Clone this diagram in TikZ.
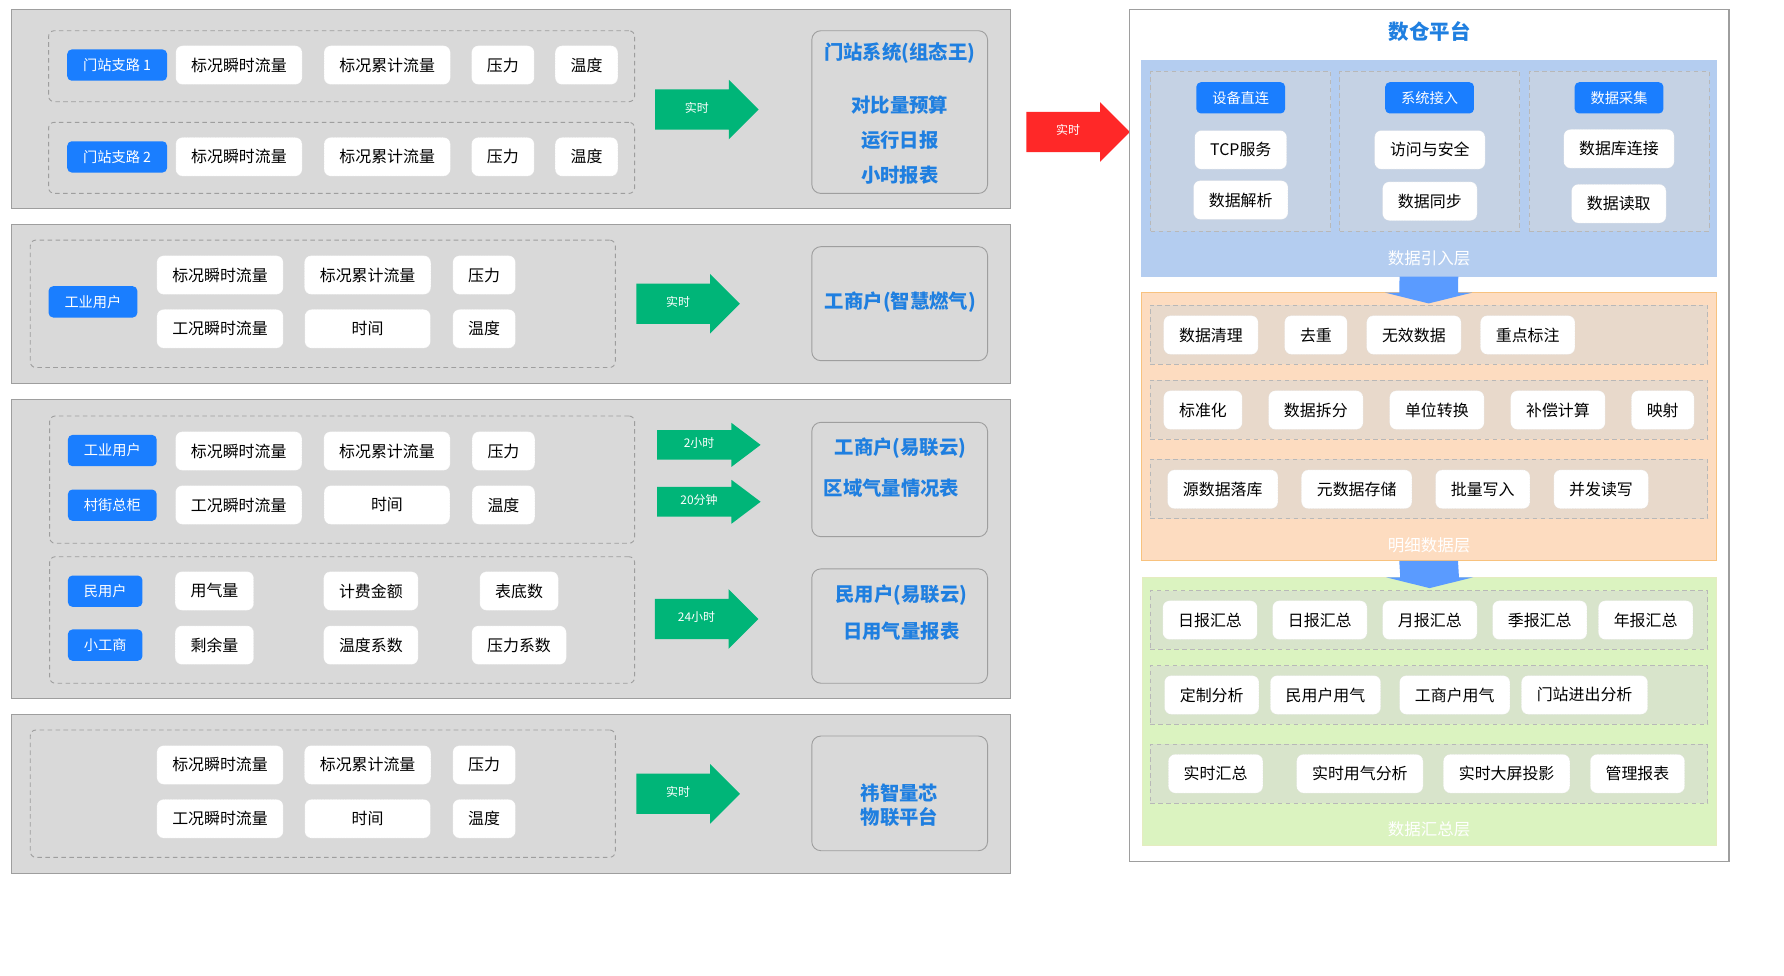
\documentclass[tikz,border=0pt]{standalone}
\usepackage{fontspec}
\setmainfont{Noto Sans CJK SC}
\usetikzlibrary{arrows.meta, positioning, shapes.arrows, calc}

\definecolor{panelgray}{HTML}{D9D9D9}
\definecolor{linegray}{HTML}{9E9E9E}
\definecolor{btnblue}{HTML}{1A7EFF}
\definecolor{flowgreen}{HTML}{00B578}
\definecolor{flowred}{HTML}{FF2828}
\definecolor{sysblue}{HTML}{1F7FE0}
\definecolor{inblue}{HTML}{B4CDF0}
\definecolor{incol}{HTML}{C5D2E4}
\definecolor{dtorange}{HTML}{FDDCC0}
\definecolor{dtedge}{HTML}{F8C27E}
\definecolor{dtrow}{HTML}{E8D9CB}
\definecolor{smgreen}{HTML}{DBF3C0}
\definecolor{smrow}{HTML}{D8E4CB}
\definecolor{dnblue}{HTML}{5A9BFF}

\begin{document}
\begin{tikzpicture}[
  x=1pt, y=-1pt,
  box/.style={anchor=north west, inner sep=0pt, outer sep=0pt},
  panel/.style={box, fill=panelgray, draw=linegray, line width=1pt},
  group/.style={box, draw=linegray, dash pattern=on 4pt off 3pt, line width=0.8pt, rounded corners=5pt},
  tag/.style={fill=btnblue, text=white, rounded corners=4pt, font=\fontsize{12.5}{14}\selectfont, minimum height=27.5, inner xsep=14, inner ysep=0pt},
  field/.style={fill=white, draw=black!12, densely dotted, rounded corners=6pt, font=\fontsize{14}{16}\selectfont, minimum height=34, inner xsep=13.5, inner ysep=0pt},
  sink/.style={box, draw=linegray, rounded corners=8pt, line width=0.8pt},
  sinktext/.style={text=sysblue, font=\fontsize{17}{20}\selectfont\bfseries},
  flow/.style={single arrow, single arrow head extend=8.5, fill=flowgreen, text=white, font=\fontsize{10.5}{12}\selectfont, minimum height=91, text height=7, text depth=2, inner ysep=13, inner xsep=0pt},
  flowsmall/.style={flow, single arrow head extend=6.3, inner ysep=8.3, single arrow tip angle=74},
  lane/.style={box, draw=black!28, dash pattern=on 4pt off 3pt, line width=0.6pt},
  layertext/.style={text=white, font=\fontsize{14.5}{16}\selectfont},
]
\useasboundingbox (0,0) rectangle (1568,857.8);

% 门站
\node[panel, minimum width=878.3, minimum height=174.8] (src1) at (10,8.2) {};
\node[group, minimum width=515.1, minimum height=62.4] (g1a) at (42.7,27) {};
\node[group, minimum width=515.1, minimum height=62.5] (g1b) at (42.7,107.5) {};
\node[tag, anchor=west] (st1) at (58.9,57.2) {门站支路 1};
\node[tag, anchor=west] (st2) at (58.9,137.9) {门站支路 2};
\foreach \y/\g in {57.2/a, 137.8/b} {
  \node[field] (f1\g1) at (210,\y) {标况瞬时流量};
  \node[field] (f1\g2) at (340.3,\y) {标况累计流量};
  \node[field] (f1\g3) at (442,\y) {压力};
  \node[field] (f1\g4) at (515.5,\y) {温度};
}
\node[flow] (a1) at (612.4,96.3) {实时};
\node[sink, minimum width=154.5, minimum height=143] (k1) at (713.5,27) {};
\node[sinktext] (k1t) at (790.8,47) {门站系统(组态王)};
\node[sinktext] (k1a) at (790.8,92.3) {对比量预算};
\node[sinktext] (k1b) at (790.8,123) {运行日报};
\node[sinktext] (k1c) at (790.8,153.8) {小时报表};

% 工商户
\node[panel, minimum width=878.3, minimum height=139.7] (src2) at (10,197.2) {};
\node[group, minimum width=514.2, minimum height=112] (g2) at (26.6,211) {};
\node[tag, anchor=west] (gy2) at (42.5,265.3) {工业用户};
\node[field] (f2a) at (193.4,241.7) {标况瞬时流量};
\node[field] (f2b) at (323.1,241.7) {标况累计流量};
\node[field] (f2c) at (425.5,241.7) {压力};
\node[field] (f2d) at (193.4,289) {工况瞬时流量};
\node[field, minimum width=110.4] (f2e) at (323.1,289) {时间};
\node[field] (f2f) at (425.5,289) {温度};
\node[flow] (a2) at (596,267) {实时};
\node[sink, minimum width=154.5, minimum height=100.2] (k2) at (713.5,216.8) {};
\node[sinktext] (k2t) at (791.4,265.7) {工商户(智慧燃气)};

% 易联云
\node[panel, minimum width=878.3, minimum height=262.7] (src3) at (10,351) {};
\node[group, minimum width=514.2, minimum height=111.9] (g3a) at (43.6,365.6) {};
\node[group, minimum width=514.2, minimum height=111.2] (g3b) at (43.6,489.3) {};
\node[tag, anchor=west] (gy3) at (59.5,396) {工业用户};
\node[tag, anchor=west] (cj3) at (59.5,444) {村街总柜};
\node[field] (f3a) at (209.8,396.4) {标况瞬时流量};
\node[field] (f3b) at (340.1,396.4) {标况累计流量};
\node[field] (f3c) at (442.5,396.4) {压力};
\node[field] (f3d) at (209.8,443.8) {工况瞬时流量};
\node[field, minimum width=110.4] (f3e) at (340.1,443.8) {时间};
\node[field] (f3f) at (442.5,443.8) {温度};
\node[tag, anchor=west] (my3) at (59.5,519.6) {民用户};
\node[tag, anchor=west] (xg3) at (59.5,567) {小工商};
\node[field] (f3g) at (188.5,519.4) {用气量};
\node[field] (f3h) at (326,519.4) {计费金额};
\node[field] (f3i) at (456.2,519.4) {表底数};
\node[field] (f3j) at (188.5,567) {剩余量};
\node[field] (f3k) at (326,567) {温度系数};
\node[field] (f3l) at (456.2,567) {压力系数};
\node[flowsmall] (a3a) at (614.4,391) {2小时};
\node[flowsmall] (a3b) at (614.4,441) {20分钟};
\node[flow] (a3c) at (612.2,544) {24小时};
\node[sink, minimum width=154.5, minimum height=100.5] (k3a) at (713.5,371.2) {};
\node[sinktext] (k3at) at (791.4,394) {工商户(易联云)};
\node[sinktext] (k3ab) at (783.5,429.2) {区域气量情况表};
\node[sink, minimum width=154.5, minimum height=100.5] (k3b) at (713.5,500) {};
\node[sinktext] (k3bt) at (792.2,523) {民用户(易联云)};
\node[sinktext] (k3bb) at (792.2,555.2) {日用气量报表};

% 物联平台
\node[panel, minimum width=878.3, minimum height=139.8] (src4) at (10,627.8) {};
\node[group, minimum width=514.2, minimum height=111.9] (g4) at (26.6,641.6) {};
\node[field] (f4a) at (193.4,672.3) {标况瞬时流量};
\node[field] (f4b) at (323.1,672.3) {标况累计流量};
\node[field] (f4c) at (425.5,672.3) {压力};
\node[field] (f4d) at (193.4,719.6) {工况瞬时流量};
\node[field, minimum width=110.4] (f4e) at (323.1,719.6) {时间};
\node[field] (f4f) at (425.5,719.6) {温度};
\node[flow] (a4) at (596,697.7) {实时};
\node[sink, minimum width=154.5, minimum height=100.8] (k4) at (713.5,646.9) {};
\node[sinktext] (k4t) at (790.6,697.2) {祎智量芯};
\node[sinktext] (k4b) at (790.6,717.8) {物联平台};

% 进入数仓
\node[flow, fill=flowred] (ar) at (938.8,116) {实时};

% 数仓平台
\node[box, fill=white, draw=linegray, line width=1pt, minimum width=526.6, minimum height=749.1] (dw) at (993,8.2) {};
\node[font=\fontsize{18}{20}\selectfont\bfseries, text=sysblue] (dwt) at (1256.5,27.8) {数仓平台};

% 数据引入层
\node[box, fill=inblue, minimum width=506.2, minimum height=190.5] (ods) at (1002.8,52.7) {};
\foreach \x [count=\i] in {1011.4,1177.6,1344}
  \node[lane, fill=incol, minimum width=158, minimum height=140.6] (c\i) at (\x,62.4) {};
\foreach \x/\t [count=\i] in {1090.5/设备直连, 1256.5/系统接入, 1423/数据采集}
  \node[tag, minimum width=76.5] (b\i) at (\x,86) {\t};
\node[field] (i1) at (1090.5,131.7) {TCP服务};
\node[field] (i2) at (1090.5,175.8) {数据解析};
\node[field] (i3) at (1256.7,131.7) {访问与安全};
\node[field] (i4) at (1256.7,176.8) {数据同步};
\node[field] (i5) at (1422.9,130.8) {数据库连接};
\node[field] (i6) at (1422.8,179) {数据读取};
\node[layertext] (odst) at (1256,227) {数据引入层};

% 明细数据层
\node[box, fill=dtorange, draw=dtedge, line width=0.8pt, minimum width=505.7, minimum height=235.8] (dwd) at (1002.8,257.2) {};
\foreach \y/\h [count=\i] in {268/52.2, 334/52, 403.7/52.2}
  \node[lane, fill=dtrow, minimum width=490, minimum height=\h] (r\i) at (1011,\y) {};
\foreach \x/\t [count=\i] in {1064.3/数据清理, 1156.6/去重, 1242.7/无效数据, 1342.7/重点标注}
  \node[field] (d1\i) at (\x,294.4) {\t};
\foreach \x/\t [count=\i] in {1057.3/标准化, 1156.5/数据拆分, 1262.9/单位转换, 1369.3/补偿计算, 1461.4/映射}
  \node[field] (d2\i) at (\x,360.4) {\t};
\foreach \x/\t [count=\i] in {1074.7/源数据落库, 1192.4/元数据存储, 1303.2/批量写入, 1407.2/并发读写}
  \node[field] (d3\i) at (\x,430) {\t};
\node[layertext] (dwdt) at (1256,479) {明细数据层};

% 数据汇总层
\node[box, fill=smgreen, draw=smgreen!70!dtorange, line width=0.8pt, minimum width=505, minimum height=236.1] (dws) at (1004,507.4) {};
\foreach \y/\h [count=\i] in {519.1/51.6, 585/51.6, 654.2/51.8}
  \node[lane, fill=smrow, minimum width=490, minimum height=\h] (s\i) at (1011,\y) {};
\foreach \x/\t [count=\i] in {1063.5/日报汇总, 1160/日报汇总, 1256.7/月报汇总, 1353.3/季报汇总, 1446.4/年报汇总}
  \node[field] (m1\i) at (\x,545) {\t};
\foreach \x/\t [count=\i] in {1065/定制分析, 1165/民用户用气, 1278.6/工商户用气, 1392.7/门站进出分析}
  \node[field] (m2\i) at (\x,610.8) {\t};
\foreach \x/\t [count=\i] in {1068.4/实时汇总, 1195.2/实时用气分析, 1324.2/实时大屏投影, 1439.2/管理报表}
  \node[field] (m3\i) at (\x,680) {\t};
\node[layertext] (dwst) at (1256,729) {数据汇总层};

% 层间箭头
\foreach \a/\b in {ods/dwd, dwd/dws}
  \fill[dnblue] ($(\a.south)+(-25.8,0)$) -- ($(\b.north)+(-25.8,0)$) -- ($(\b.north)+(-38.3,0)$)
    -- ($(\b.north)+(0,9.5)$) -- ($(\b.north)+(38.3,0)$) -- ($(\b.north)+(25.8,0)$)
    -- ($(\a.south)+(25.8,0)$) -- cycle;

\end{tikzpicture}
\end{document}
